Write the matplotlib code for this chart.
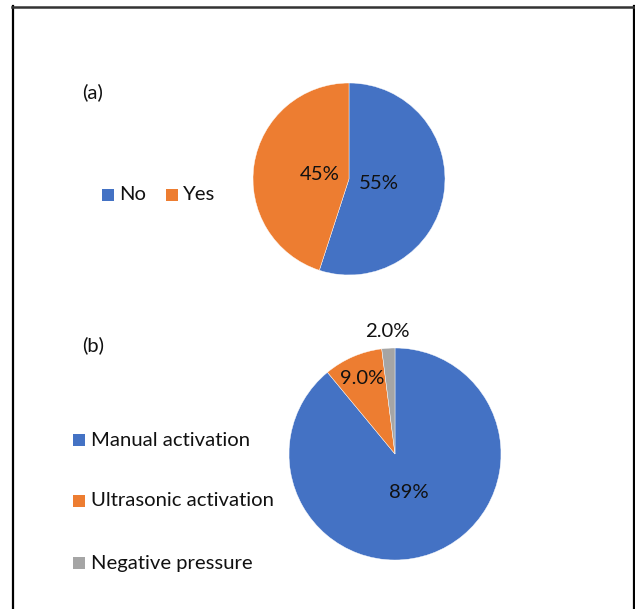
import matplotlib
matplotlib.use("Agg")
import matplotlib.pyplot as plt
import numpy as np
from matplotlib.patches import Rectangle
from matplotlib.lines import Line2D

plt.rcParams['font.family'] = ['Lato', 'DejaVu Sans']

# Panel (a)
cats_a = ["No", "Yes"]
vals_a = [55, 45]
labels_a = ["55%", "45%"]

# Panel (b)
cats_b = ["Manual activation", "Ultrasonic activation", "Negative pressure"]
vals_b = [89, 9, 2]
labels_b = ["89%", "9.0%", "2.0%"]

colors = ["#4472C4", "#ED7D31", "#A5A5A5"]

W, H = 635, 609
fig = plt.figure(figsize=(W / 100, H / 100), dpi=100)
ax = fig.add_axes([0, 0, 1, 1])
ax.set_xlim(0, W)
ax.set_ylim(0, H)
ax.set_aspect("equal")
ax.axis("off")

FS = 14.6
TXT = "#111111"


def py(y):
    # pixel row measured from the top -> data y
    return H - y


def draw_pie(values, texts, center, radius, dists):
    wedges, _ = ax.pie(values, colors=colors[:len(values)], startangle=90,
                       counterclock=False, center=center, radius=radius,
                       wedgeprops=dict(edgecolor="white", linewidth=0.3),
                       frame=True)
    for w, t, d in zip(wedges, texts, dists):
        mid = np.deg2rad((w.theta1 + w.theta2) / 2)
        x = center[0] + d * radius * np.cos(mid)
        y = center[1] + d * radius * np.sin(mid)
        ax.text(x, y, t, ha="center", va="center", fontsize=FS, color=TXT)


draw_pie(vals_a, labels_a, (349, py(179)), 96, [0.31, 0.31])
draw_pie(vals_b, labels_b, (395, py(454)), 106, [0.39, 0.78, 1.16])
ax.set_xlim(0, W)
ax.set_ylim(0, H)
ax.axis("off")

# Panel tags
ax.text(82, py(92), "(a)", fontsize=FS, va="center", ha="left", color=TXT)
ax.text(82, py(345), "(b)", fontsize=FS, va="center", ha="left", color=TXT)

# Legend for (a): horizontal
sq = 12
leg_a = [(102, 195), (166, 195)]
for (x, y), c, name in zip(leg_a, colors, cats_a):
    ax.add_patch(Rectangle((x, py(y) - sq / 2), sq, sq, color=c, lw=0))
    ax.text(x + sq + 5, py(y), name, fontsize=FS, va="center", ha="left", color=TXT)

# Legend for (b): vertical
leg_b_y = [440, 501, 563]
for y, c, name in zip(leg_b_y, colors, cats_b):
    ax.add_patch(Rectangle((73, py(y) - sq / 2), sq, sq, color=c, lw=0))
    ax.text(73 + sq + 6, py(y), name, fontsize=FS, va="center", ha="left", color=TXT)

# Surrounding frame (open at the bottom)
fig.add_artist(Line2D([13 / W, 13 / W], [0, py(6) / H], color="black", lw=1.6,
                      transform=fig.transFigure))
fig.add_artist(Line2D([633.5 / W, 633.5 / W], [0, py(6) / H], color="black", lw=1.6,
                      transform=fig.transFigure))
fig.add_artist(Line2D([12 / W, 634.5 / W], [py(6.5) / H, py(6.5) / H], color="#333333",
                      lw=1.8, transform=fig.transFigure))

fig.savefig("out.png", dpi=100)
